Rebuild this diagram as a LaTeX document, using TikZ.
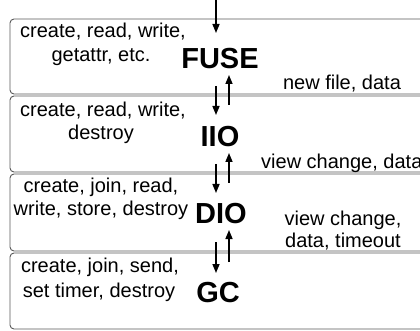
\documentclass[tikz,border=0pt]{standalone}
\usepackage{fontspec}
\setmainfont{Liberation Sans}
\usetikzlibrary{arrows.meta}
\begin{document}
\begin{tikzpicture}[x=1pt,y=-1pt,
  layer/.style={draw=black!65, line width=0.9pt, rounded corners=4pt, minimum width=420pt, inner sep=0pt},
  op/.style={font=\fontsize{20}{24}\selectfont, anchor=base, inner sep=0pt},
  title/.style={font=\fontsize{29}{32}\selectfont\bfseries, anchor=base, inner sep=0pt},
  flow/.style={line width=1.5pt, -{Triangle[length=9pt,width=7pt]}}]
\clip (0,0) rectangle (420,331);
% layers
\node[layer, minimum height=75pt] (fusebox) at (220,56.5) {};
\node[layer, minimum height=76pt] (iiobox) at (220,134) {};
\node[layer, minimum height=77pt] (diobox) at (220,212.5) {};
\node[layer, minimum height=76pt] (gcbox) at (220,291) {};
% FUSE
\node[op] (f1) at (103,38) {create, read, write,};
\node[op] (f2) at (101,62) {getattr, etc.};
\node[title] (fuse) at (220,69) {FUSE};
\node[op] (fout) at (342,90) {new file, data};
% IIO
\node[op] (i1) at (103,117) {create, read, write,};
\node[op] (i2) at (101,140) {destroy};
\node[title] (iio) at (220,147) {IIO};
\node[op, anchor=base west] (iout) at (261,168) {view change, data};
% DIO
\node[op] (d1) at (101,193) {create, join, read,};
\node[op] (d2) at (101,215) {write, store, destroy};
\node[title] (dio) at (221,223) {DIO};
\node[op] (dout1) at (343,225) {view change,};
\node[op] (dout2) at (343,247) {data, timeout};
% GC
\node[op] (g1) at (100,272) {create, join, send,};
\node[op] (g2) at (99,297) {set timer, destroy};
\node[title] (gc) at (218,302) {GC};
% arrow end points
\coordinate (top0) at (216,0);
\coordinate (top1) at (216,33);
\coordinate (a1s) at (216,86);  \coordinate (a1e) at (216,115);
\coordinate (b1s) at (229,105); \coordinate (b1e) at (229,75);
\coordinate (a2s) at (216,164); \coordinate (a2e) at (216,193);
\coordinate (b2s) at (229,183); \coordinate (b2e) at (229,153);
\coordinate (a3s) at (216,242); \coordinate (a3e) at (216,273);
\coordinate (b3s) at (229,262); \coordinate (b3e) at (229,230);
\draw[flow] (top0) -- (top1);
\draw[flow] (a1s) -- (a1e);
\draw[flow] (b1s) -- (b1e);
\draw[flow] (a2s) -- (a2e);
\draw[flow] (b2s) -- (b2e);
\draw[flow] (a3s) -- (a3e);
\draw[flow] (b3s) -- (b3e);
\end{tikzpicture}
\end{document}
